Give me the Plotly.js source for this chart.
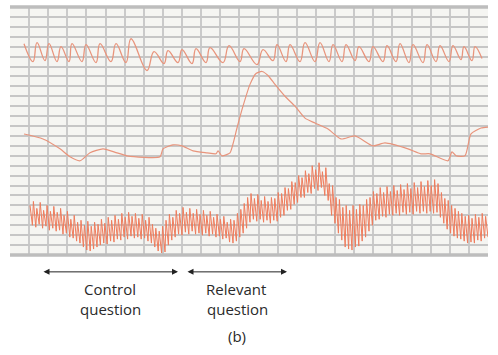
<!DOCTYPE html>
<html>
<head>
<meta charset="utf-8">
<script src="https://cdn.plot.ly/plotly-3.0.1.min.js"></script>
<style>html,body{margin:0;padding:0;background:#fff;}#chart{width:498px;height:355px;}</style>
</head>
<body>
<div id="chart"></div>
<script>
// Respiration trace (top): time and amplitude
var respTime = [14,23,27,35,39,47,51,59,62,72,76,86,90,101,106,116,121,137,144,154,158,168,172,182,186,196,200,213,219,230,234,247,253,263,267,276,280,290,295,305,310,319,323,332,336,345,349,359,363,373,377,386,390,399,403,413,417,426,430,439,443,451,454,462,465,472];
var respValue = [213,195,214,196,213,195,210,195,213,195,212,194,213,195,213,194,218,186,205,193,206,194,207,193,208,194,209,194,211,195,208,192,207,196,212,195,212,195,214,195,214,195,212,195,212,196,210,195,210,195,211,195,213,194,212,194,212,195,211,195,211,197,210,196,210,198];

// Skin conductance trace (middle)
var gsrTime = [14,33,50,60,70,80,93,107,117,150,153,163,172,183,197,206,208,212,220,223,227,233,240,246,252,258,265,275,285,295,305,318,331,345,363,375,398,411,420,438,442,446,455,461,471,478];
var gsrValue = [122,117,107,99,95,103,107,103,100,99,107,111,110,105,103,102,105,100,103,112,128,150,172,183,185,181,172,160,150,138,133,127,117,120,110,113,107,102,102,95,104,100,100,122,128,129];

// Cardiovascular trace (bottom): beat peaks and troughs
var cardioStart = 20;
var beatInterval = 3.4;
var cardioPeaks = [50,54,47,53,45,50,44,49,43,47,40,44,36,40,33,35,30,34,29,33,31,36,32,38,35,40,36,42,38,43,39,42,37,41,35,38,31,27,24,29,35,41,38,45,42,48,43,47,42,46,41,45,40,44,38,41,36,39,33,36,35,42,46,52,58,62,57,61,55,59,54,58,57,63,62,68,67,74,73,80,78,85,82,90,86,93,84,88,72,70,58,56,48,50,45,50,46,51,50,56,58,64,62,68,63,69,64,70,65,71,66,72,67,73,68,74,69,75,70,76,72,63,57,55,50,47,44,42,39,40,37,41,38,42,39];
var cardioTroughs = [30,28,31,27,29,25,27,24,25,21,22,18,17,14,12,8,5,4,6,8,10,12,11,14,13,16,15,18,16,19,17,18,16,17,14,12,8,4,2,3,10,15,18,21,20,23,21,24,21,22,20,22,19,21,18,19,16,17,13,12,14,18,22,27,33,36,34,36,33,35,32,35,34,38,40,45,46,51,53,58,58,63,62,67,65,68,60,55,40,32,22,15,8,6,5,8,9,14,18,24,30,35,36,39,38,41,40,42,40,43,41,43,41,44,42,44,42,44,42,43,38,32,26,22,19,17,16,14,12,13,12,15,14,17,18];

var cardioX = [], cardioY = [];
for (var i = 0; i < cardioPeaks.length; i++) {
  var t = cardioStart + i * beatInterval;
  cardioX.push(t); cardioY.push(cardioPeaks[i]);
  cardioX.push(t + 2.4); cardioY.push(cardioTroughs[i]);
}

// Grid
var colW = 19.12;
var xGrid = [];
for (var k = 1; k < 25; k++) xGrid.push(k * colW);

var traces = [
  {x: respTime, y: respValue, mode: 'lines', line: {color: '#e8947c', width: 1.3, shape: 'spline', smoothing: 1.2}, hoverinfo: 'skip'},
  {x: gsrTime, y: gsrValue, mode: 'lines', line: {color: '#e8947c', width: 1.2, shape: 'spline', smoothing: 0.6}, hoverinfo: 'skip'},
  {x: cardioX, y: cardioY, mode: 'lines', line: {color: '#ef7c5c', width: 1}, hoverinfo: 'skip'}
];

var arrowY = -0.068;
var txtFont = {family: 'Open Sans, sans-serif', size: 15, color: '#2a2a2a'};
function label(x, yPix, text) {
  return {xref: 'x', yref: 'paper', x: x, y: (255 - yPix) / 248, yanchor: 'middle', text: text,
          showarrow: false, font: txtFont, borderpad: 0};
}
var layout = {
  width: 498, height: 355,
  margin: {l: 10, r: 10, t: 7, b: 100},
  paper_bgcolor: '#ffffff',
  plot_bgcolor: '#f5f5f2',
  showlegend: false,
  xaxis: {range: [0, 478], tickmode: 'array', tickvals: xGrid, showticklabels: false, ticks: '',
          showgrid: true, gridcolor: '#cacaca', gridwidth: 2, zeroline: false, showline: false, fixedrange: true},
  yaxis: {range: [0, 250], dtick: 10, tick0: 0, showticklabels: false, ticks: '',
          showgrid: true, gridcolor: '#c6c6c6', gridwidth: 2, zeroline: false, showline: false, fixedrange: true},
  shapes: [
    {type: 'line', xref: 'paper', yref: 'paper', x0: 0, x1: 1, y0: 1, y1: 1, line: {color: '#bdbdbd', width: 3.5}},
    {type: 'line', xref: 'paper', yref: 'paper', x0: 0, x1: 1, y0: 0, y1: 0, line: {color: '#bdbdbd', width: 3.5}}
  ],
  annotations: [
    {xref: 'x', yref: 'paper', x: 168, y: arrowY, ax: -136, ay: 0, axref: 'pixel', ayref: 'pixel', text: '', showarrow: true,
     arrowside: 'end+start', arrowhead: 2, arrowsize: 1.2, arrowwidth: 1, arrowcolor: '#222'},
    {xref: 'x', yref: 'paper', x: 277, y: arrowY, ax: -101, ay: 0, axref: 'pixel', ayref: 'pixel', text: '', showarrow: true,
     arrowside: 'end+start', arrowhead: 2, arrowsize: 1.2, arrowwidth: 1, arrowcolor: '#222'},
    label(100, 288.5, 'Control'),
    label(100, 308.5, 'question'),
    label(226, 288.5, 'Relevant'),
    label(227, 308.5, 'question'),
    label(227, 336, '(b)')
  ]
};

Plotly.newPlot('chart', traces, layout, {displayModeBar: false, staticPlot: true});
</script>
</body>
</html>
